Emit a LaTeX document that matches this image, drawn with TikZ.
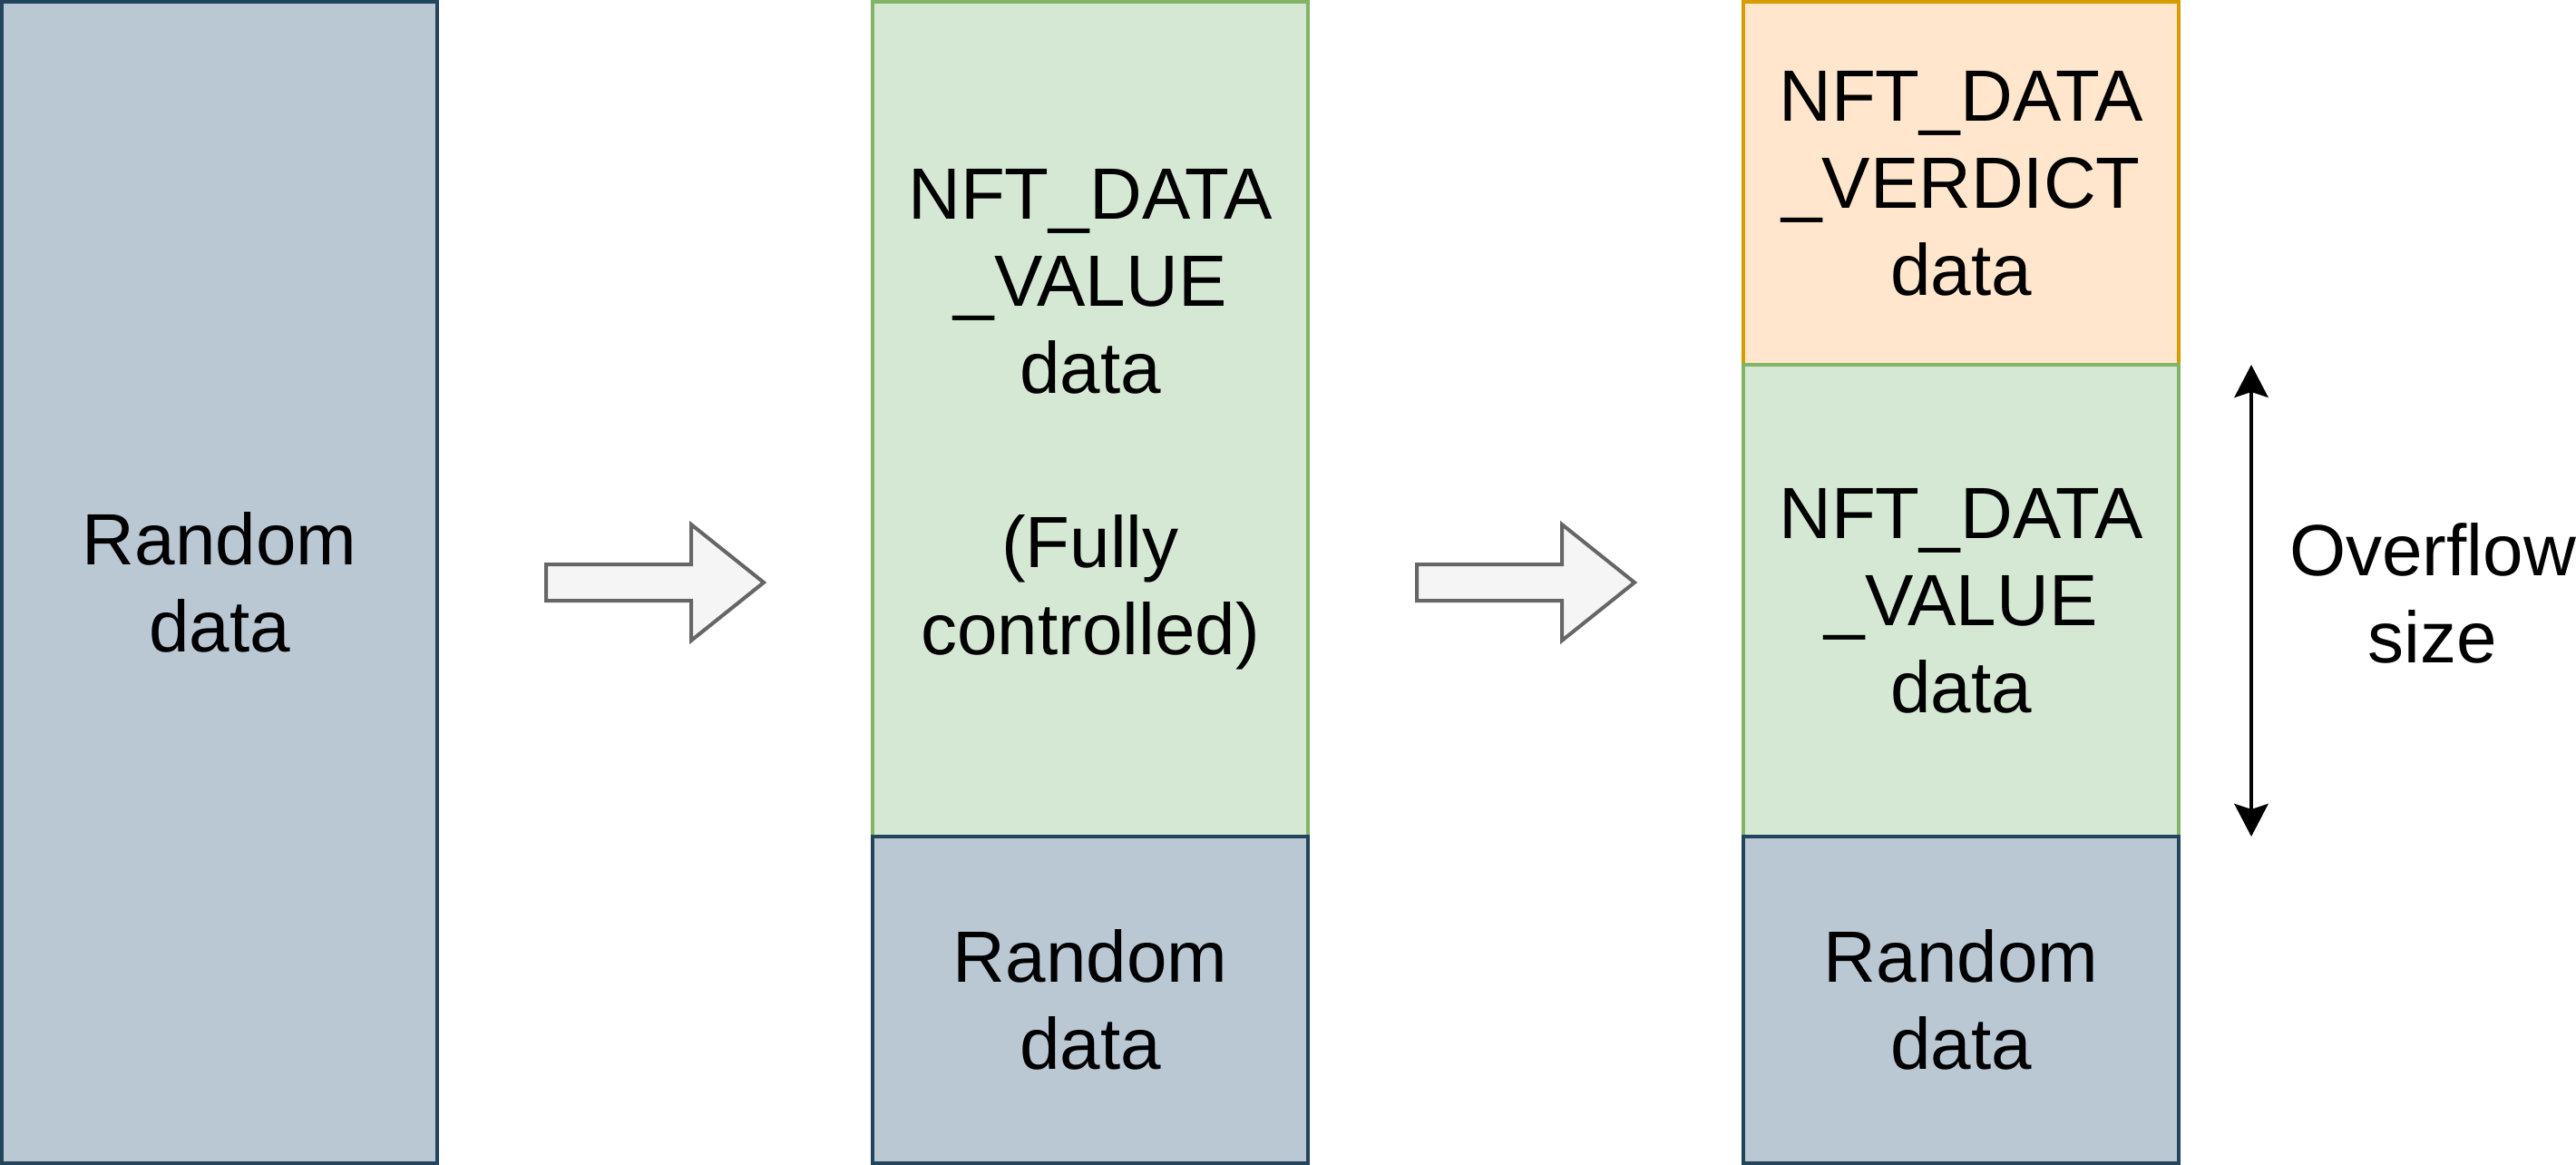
\documentclass[tikz,border=0pt]{standalone}
\usepackage{fontspec}
\setmainfont{Liberation Sans}
\usetikzlibrary{positioning,arrows.meta}

\definecolor{rndfill}{HTML}{BAC8D3}
\definecolor{rndline}{HTML}{23445D}
\definecolor{valfill}{HTML}{D5E8D4}
\definecolor{valline}{HTML}{82B366}
\definecolor{verfill}{HTML}{FFE6CC}
\definecolor{verline}{HTML}{D79B00}
\definecolor{stepfill}{HTML}{F5F5F5}
\definecolor{stepline}{HTML}{666666}

\tikzset{
  block/.style={draw, line width=1pt, minimum width=120pt, inner sep=0pt,
    outer sep=0pt, align=center, font=\fontsize{20}{24}\selectfont},
  randomblk/.style={block, fill=rndfill, draw=rndline},
  valueblk/.style={block, fill=valfill, draw=valline},
  verdictblk/.style={block, fill=verfill, draw=verline},
  fatarrow/.style={draw=stepline, fill=stepfill, line width=1pt},
  sizearrow/.style={line width=1pt, {Stealth[length=9pt,width=9.3pt,inset=1.5pt]}-{Stealth[length=9pt,width=9.3pt,inset=1.5pt]}}
}

\begin{document}
\begin{tikzpicture}[x=1pt, y=-1pt]
  \useasboundingbox (-0.5,-0.5) rectangle (709.5,320.5);

  % before
  \node[randomblk, minimum height=320pt, anchor=north west] (rnd1) at (0,0) {Random\\data};

  % value written
  \node[valueblk, minimum height=230pt, anchor=north west] (val2) at (240,0)
    {NFT\_DATA\\\_VALUE\\data\\[24pt](Fully\\controlled)};
  \node[randomblk, minimum height=90pt, below=0pt of val2] (rnd2) {Random\\data};

  % verdict written on top
  \node[verdictblk, minimum height=100pt, anchor=north west] (ver3) at (480,0)
    {NFT\_DATA\\\_VERDICT\\data};
  \node[valueblk, minimum height=130pt, below=0pt of ver3] (val3) {NFT\_DATA\\\_VALUE\\data};
  \node[randomblk, minimum height=90pt, below=0pt of val3] (rnd3) {Random\\data};

  % steps
  \foreach \x in {150,390}
    \draw[fatarrow] (\x,155) -- (\x+40,155) -- (\x+40,144) -- (\x+60,160)
      -- (\x+40,176) -- (\x+40,165) -- (\x,165) -- cycle;

  % overflow size
  \coordinate (ovtop) at (620,100);
  \coordinate (ovbot) at (620,230);
  \draw[sizearrow] (ovtop) -- (ovbot);
  \node[font=\fontsize{20}{24}\selectfont, align=center] (ovlabel) at (670,163) {Overflow\\size};
\end{tikzpicture}
\end{document}
